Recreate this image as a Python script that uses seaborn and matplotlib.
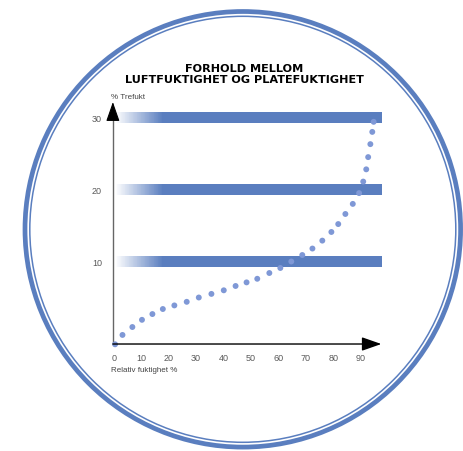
import numpy as np
import matplotlib
matplotlib.use("Agg")
import matplotlib.pyplot as plt
import seaborn as sns
from matplotlib.colors import LinearSegmentedColormap
from matplotlib.patches import Circle

# relative humidity (%) vs. wood moisture content (%)
rh = [0.5, 3.2, 6.8, 10.3, 14.1, 17.9, 22.1, 26.6, 31.0, 35.6, 40.1, 44.4, 48.4,
      52.3, 56.7, 60.7, 64.7, 68.7, 72.4, 76.0, 79.3, 81.8, 84.4, 87.1, 89.4,
      90.9, 92.0, 92.7, 93.5, 94.2, 94.7]
mc = [-1.5, -0.2, 0.9, 1.9, 2.7, 3.4, 3.9, 4.4, 5.0, 5.5, 6.0, 6.6, 7.1,
      7.6, 8.4, 9.1, 10.0, 10.9, 11.8, 12.9, 14.1, 15.2, 16.6, 18.0, 19.5,
      21.1, 22.8, 24.5, 26.3, 28.0, 29.4]
band_levels = [10, 20, 30]
x_ticks = [0, 10, 20, 30, 40, 50, 60, 70, 80, 90]
y_ticks = [10, 20, 30]

title = "FORHOLD MELLOM\nLUFTFUKTIGHET OG PLATEFUKTIGHET"
y_label = "% Trefukt"
x_label = "Relativ fuktighet %"

blue = "#5a7ebf"
dot_blue = "#7f98d6"

sns.set_style("white")
plt.rcParams["font.family"] = ["Liberation Sans", "DejaVu Sans"]

W, H = 463, 452
fig = plt.figure(figsize=(W / 100, H / 100), dpi=100)

# background: double ring
bg = fig.add_axes([0, 0, 1, 1])
bg.set_xlim(0, W)
bg.set_ylim(H, 0)
bg.axis("off")
bg.add_patch(Circle((242.8, 230.3), 217.8, fill=False, ec=blue, lw=3.4))
bg.add_patch(Circle((242.8, 230.3), 213.0, fill=False, ec=blue, lw=1.1))
bg.text(244, 74.5, title, ha="center", va="center", fontsize=8.1,
        fontweight="heavy", family="DejaVu Sans", linespacing=1.02,
        color="black")

# main chart, mapped to pixel positions of the reference
px_left, px_right, px_top, px_bottom = 105, 400, 90, 350
ax = fig.add_axes([px_left / W, 1 - px_bottom / H,
                   (px_right - px_left) / W, (px_bottom - px_top) / H])
ax.patch.set_alpha(0)
x0, sx = 113.7, 2.745
y0, sy = 334.5, 7.2

# bands: faded start (thin bar segments) + solid bar
cmap = LinearSegmentedColormap.from_list("fade", ["white", blue])
bh = 1.53
fade_start, fade_end, band_end = 0.5, 18.0, 97.7
n_seg = 60
edges = np.linspace(fade_start, fade_end, n_seg + 1)
for i in range(n_seg):
    ax.barh(band_levels, width=edges[i + 1] - edges[i] + 0.05, left=edges[i],
            height=bh, color=cmap(i / (n_seg - 1)), linewidth=0, zorder=1)
ax.barh(band_levels, width=band_end - fade_end, left=fade_end, height=bh,
        color=blue, linewidth=0, zorder=1)
ax.set_xlim((px_left - x0) / sx, (px_right - x0) / sx)
ax.set_ylim((y0 - px_bottom) / sy, (y0 - px_top) / sy)

# curve as dots
sns.scatterplot(x=rh, y=mc, ax=ax, s=18, color=dot_blue, edgecolor="none",
                zorder=3)

# axes with arrows
base = -1.46
ax.plot([-0.3, -0.3], [base, 31.0], color="#666666", lw=1.0, zorder=2)
ax.annotate("", xy=(-0.3, 32.15), xytext=(-0.3, 30.3),
            arrowprops=dict(arrowstyle="-|>,head_length=1.0,head_width=0.35",
                            color="black", lw=0.8, mutation_scale=12,
                            shrinkA=0, shrinkB=0), zorder=4)
ax.annotate("", xy=(97.5, base), xytext=(-0.3, base),
            arrowprops=dict(arrowstyle="-|>,head_length=1.0,head_width=0.35",
                            color="black", lw=1.0, mutation_scale=12,
                            shrinkA=0, shrinkB=0), zorder=4)

for s in ax.spines.values():
    s.set_visible(False)
ax.set_xticks(x_ticks)
ax.set_yticks(y_ticks)
ax.tick_params(axis="both", length=0, labelsize=6.5, labelcolor="#5a5a5a")
ax.tick_params(axis="x", pad=3)
ax.tick_params(axis="y", pad=2.2)
ax.set_xlabel("")
ax.set_ylabel("")

ax.text(-1.0, (y0 - 97) / sy, y_label, fontsize=5.8, color="#444444",
        ha="left", va="center")
ax.text(-1.0, (y0 - 371) / sy, x_label, fontsize=5.8, color="#444444",
        ha="left", va="center")

fig.savefig("out.png", dpi=100)
